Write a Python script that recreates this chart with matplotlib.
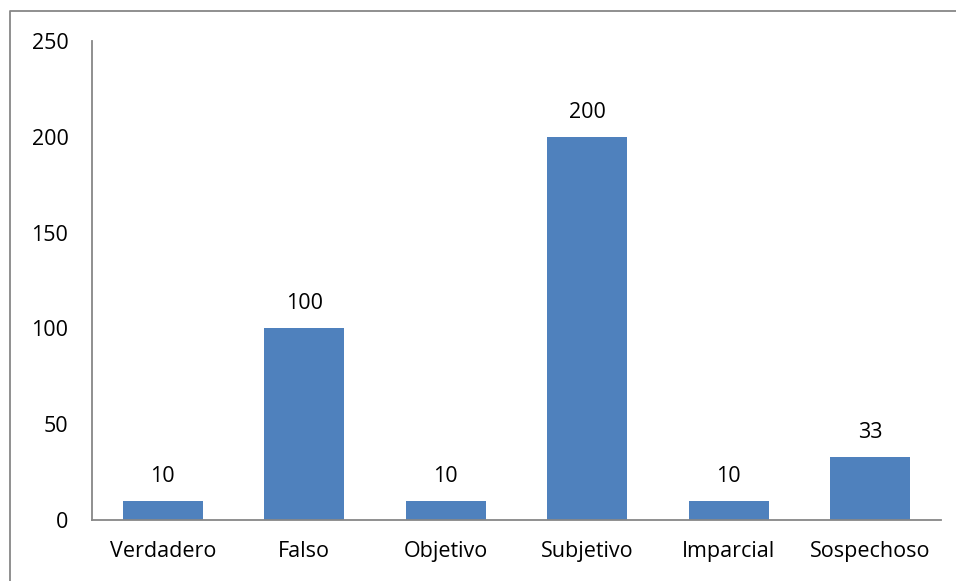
import matplotlib.pyplot as plt
from matplotlib.lines import Line2D

categories = ["Verdadero", "Falso", "Objetivo", "Subjetivo", "Imparcial", "Sospechoso"]
values = [10, 100, 10, 200, 10, 33]
yticks = [0, 50, 100, 150, 200, 250]

plt.rcParams['font.family'] = ['Open Sans', 'DejaVu Sans']

fig = plt.figure(figsize=(9.56, 5.81), dpi=100)
ax = fig.add_axes([92 / 956, 1 - 520 / 581, (941 - 92) / 956, (520 - 41) / 581])

x = range(len(categories))
bars = ax.bar(x, values, width=0.565, color="#4F81BD")
for b, v in zip(bars, values):
    ax.annotate(str(v), (b.get_x() + b.get_width() / 2, v), xytext=(0, 19),
                textcoords="offset pixels", ha="center", va="baseline", fontsize=15.5)

ax.set_xlim(-0.5, len(categories) - 0.5)
ax.set_ylim(0, 250)
ax.set_yticks(yticks)
ax.set_xticks(list(x))
ax.set_xticklabels(categories)
ax.tick_params(axis="both", length=0, labelsize=15.5)
ax.tick_params(axis="y", pad=17)
ax.tick_params(axis="x", pad=15)
for s in ("top", "right"):
    ax.spines[s].set_visible(False)
for s in ("left", "bottom"):
    ax.spines[s].set_color("#878787")
    ax.spines[s].set_linewidth(1.3)

# outer chart frame (top and left edges)
fig.add_artist(Line2D([10 / 956, 10 / 956, 1], [0, 1 - 11 / 581, 1 - 11 / 581],
                      transform=fig.transFigure, color="#878787", lw=1.3))

fig.savefig("out.png", dpi=100)
